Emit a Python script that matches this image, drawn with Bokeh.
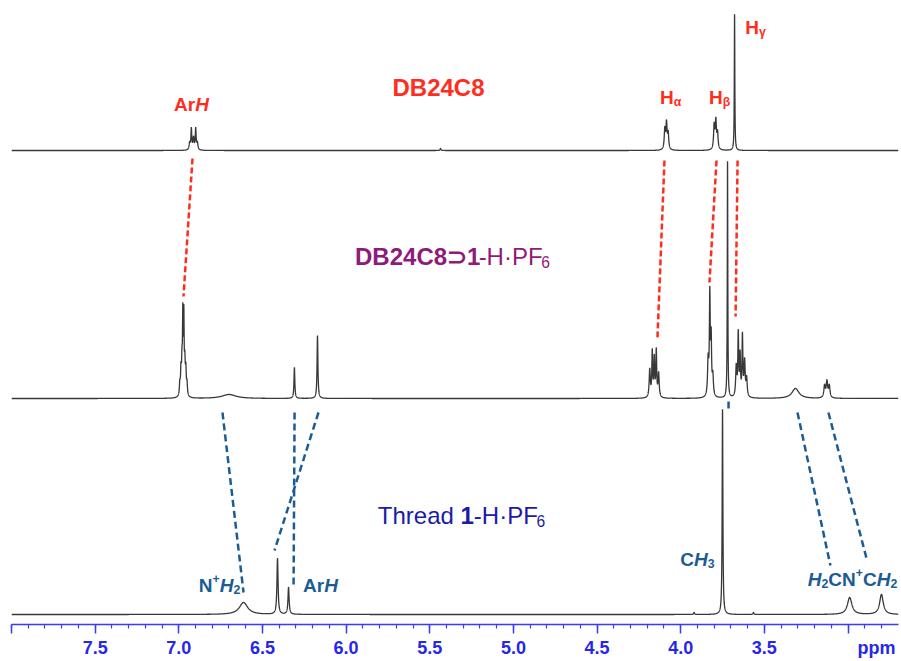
import numpy as np
from bokeh.plotting import figure
from bokeh.models import Range1d, LinearAxis, FixedTicker, ColumnDataSource
from bokeh.core.properties import value, field
from bokeh.embed import file_html
from bokeh.resources import INLINE

# ---------------- data ----------------
TICKS_MAJOR = [8.0, 7.5, 7.0, 6.5, 6.0, 5.5, 5.0, 4.5, 4.0, 3.5, 3.0]
LABEL_TICKS = [7.5, 7.0, 6.5, 6.0, 5.5, 5.0, 4.5, 4.0, 3.5, 2.83]
TICK_LABELS = ["7.5", "7.0", "6.5", "6.0", "5.5", "5.0", "4.5", "4.0", "3.5", "ppm"]

# peaks of each trace: chemical shift (ppm), height (px above baseline), half width (ppm)
TOP_PPM = [6.935, 6.925, 6.912, 6.899, 6.889, 5.436, 4.095, 4.085, 4.075, 3.800, 3.790, 3.780, 3.678]
TOP_H   = [7, 21, 12, 21, 7, 2, 20, 26, 16, 24, 28, 16, 137]
TOP_W   = [.004, .003, .004, .003, .004, .003, .004, .004, .004, .004, .004, .004, .0018]

MID_PPM = [6.994, 6.987, 6.981, 6.976, 6.970, 6.964, 6.958, 6.951, 6.700, 6.309, 6.171,
           4.185, 4.170, 4.158, 4.146, 4.132, 3.836, 3.826, 3.818, 3.808, 3.720,
           3.668, 3.656, 3.645, 3.631, 3.618, 3.606, 3.314, 3.140, 3.126, 3.112]
MID_H   = [12, 24, 30, 75, 75, 30, 24, 12, 4, 31, 63,
           28, 45, 38, 46, 24, 35, 100, 55, 20, 238,
           30, 62, 40, 60, 35, 18, 10, 12, 16, 12]
MID_W   = [.003, .003, .003, .0022, .0022, .003, .003, .003, .05, .003, .003,
           .004, .003, .003, .003, .004, .004, .003, .003, .004, .0018,
           .004, .003, .003, .003, .004, .004, .025, .005, .005, .005]

THR_PPM = [6.613, 6.410, 6.344, 3.920, 3.750, 3.565, 2.990, 2.800]
THR_H   = [12, 56, 27, 2, 206, 2, 17, 20]
THR_W   = [.030, .004, .004, .003, .0025, .003, .016, .013]

# correlation lines (ppm at upper end, ppm at lower end)
RED_FROM = [6.918, 4.097, 3.786, 3.660]
RED_TO   = [6.972, 4.139, 3.828, 3.672]
BLUE_FROM = [6.739, 6.308, 6.165, 3.302, 3.117, 3.714]
BLUE_TO   = [6.613, 6.314, 6.428, 3.105, 2.889, 3.714]

# ---------------- layout ----------------
W, H = 900, 660
PX_PER_PPM = 167.3
FRAME_LEFT, FRAME_RIGHT = 11, 898      # page x of frame edges
AXIS_ROW = 624                          # page y of the axis line
X_LEFT = 8.0
X_RIGHT = X_LEFT - (FRAME_RIGHT - FRAME_LEFT) / PX_PER_PPM
TEXT_SHIFT = 6

def Y(page_y):  # page pixel row -> data y
    return AXIS_ROW - page_y

def xp(page_x):
    return X_LEFT - (page_x - FRAME_LEFT) / PX_PER_PPM

TOP_BASE, MID_BASE, THR_BASE = Y(150), Y(398), Y(614)

RED = "#ff2d1e"
PURPLE = "#8e1a7b"
NAVY = "#1b1ba8"
LBLUE = "#1c5c94"
AXBLUE = "#3b3bf5"
TICKBLUE = "#2626ec"
FONT = "Liberation Sans"

p = figure(width=W, height=H, x_range=Range1d(X_LEFT, X_RIGHT), y_range=Range1d(0, AXIS_ROW),
           output_backend="svg", toolbar_location=None, x_axis_type=None, y_axis_type=None,
           min_border_left=FRAME_LEFT, min_border_right=W - FRAME_RIGHT, min_border_top=0,
           min_border_bottom=H - AXIS_ROW)
p.outline_line_color = None
p.background_fill_color = "white"

grid = np.arange(X_RIGHT, X_LEFT + 0.0004, 0.0004)

def trace(ppms, hs, ws, base):
    y = np.full_like(grid, float(base))
    for c, h, w in zip(ppms, hs, ws):
        y += h * w * w / (w * w + (grid - c) ** 2)
    return y

for ppms, hs, ws, base in [(TOP_PPM, TOP_H, TOP_W, TOP_BASE),
                           (MID_PPM, MID_H, MID_W, MID_BASE),
                           (THR_PPM, THR_H, THR_W, THR_BASE)]:
    p.line(grid, trace(ppms, hs, ws, base), line_color="#383838", line_width=1.3)

# dashed correlation lines
p.segment(x0=RED_FROM, y0=[Y(158), Y(160), Y(160), Y(160)],
          x1=RED_TO, y1=[Y(296), Y(338), Y(282), Y(316)],
          line_color=RED, line_width=2.5, line_dash="6 3")
p.segment(x0=BLUE_FROM, y0=[Y(412), Y(412), Y(412), Y(412), Y(412), Y(401)],
          x1=BLUE_TO, y1=[Y(592), Y(587), Y(550), Y(565), Y(558), Y(408)],
          line_color=LBLUE, line_width=2.5, line_dash="7 4")

# ---------------- rich text labels ----------------
REG_W = {' ': 278, '-': 333, '·': 278, '+': 584, 'A': 667, 'B': 667, 'C': 722, 'D': 722, 'F': 611,
         'H': 722, 'N': 722, 'P': 667, 'T': 611, 'a': 556, 'd': 556, 'e': 556, 'h': 556, 'r': 333,
         'α': 578, 'β': 575, 'γ': 500, '⊃': 760}
BOLD_W = {' ': 278, '-': 333, '·': 278, '+': 584, 'A': 722, 'B': 722, 'C': 722, 'D': 722, 'F': 611,
          'H': 722, 'N': 722, 'P': 667, 'T': 611, 'r': 389, 'α': 600, 'β': 600, 'γ': 556, '⊃': 760}

def twidth(s, size, bold):
    tbl = BOLD_W if bold else REG_W
    return sum(tbl.get(ch, 556) for ch in s) * size / 1000.0

LABELS = [
    (xp(438), Y(93), 24, RED, [("DB24C8", "bold", "")]),
    (xp(191), Y(110), 19, RED, [("Ar", "bold", ""), ("H", "bold italic", "")]),
    (xp(670), Y(103), 19, RED, [("H", "bold", ""), ("α", "bold", "sub")]),
    (xp(719), Y(103), 19, RED, [("H", "bold", ""), ("β", "bold", "sub")]),
    (xp(755), Y(33), 19, RED, [("H", "bold", ""), ("γ", "bold", "sub")]),
    (xp(452), Y(262), 24, PURPLE, [("DB24C8⊃1", "bold", ""), ("-H·PF", "normal", ""), ("6", "normal", "sub")]),
    (xp(461), Y(521), 24, NAVY, [("Thread ", "normal", ""), ("1", "bold", ""), ("-H·PF", "normal", ""), ("6", "normal", "sub")]),
    (xp(219), Y(591), 19, LBLUE, [("N", "bold", ""), ("+", "bold", "sup"), ("H", "bold italic", ""), ("2", "bold", "sub")]),
    (xp(320), Y(591), 19, LBLUE, [("Ar", "bold", ""), ("H", "bold italic", "")]),
    (xp(697), Y(565), 19, LBLUE, [("C", "bold", ""), ("H", "bold italic", ""), ("3", "bold", "sub")]),
    (xp(852), Y(585), 19, LBLUE, [("H", "bold italic", ""), ("2", "bold", "sub"), ("CN", "bold", ""),
                                  ("+", "bold", "sup"), ("C", "bold", ""), ("H", "bold italic", ""), ("2", "bold", "sub")]),
]

rows = dict(x=[], y=[], text=[], xo=[], fs=[], st=[], col=[])
for cx, cy, size, col, runs in LABELS:
    pieces, total = [], 0.0
    for txt, st, scr in runs:
        sz = size * (0.65 if scr else 1.0)
        dy = {"": 0.0, "sub": -0.22 * size, "sup": 0.36 * size}[scr]
        pieces.append((txt, st, sz, total, dy))
        total += twidth(txt, sz, "bold" in st)
    for txt, st, sz, off, dy in pieces:
        rows["x"].append(cx)
        rows["y"].append(cy + dy + TEXT_SHIFT)
        rows["text"].append(txt)
        rows["xo"].append(off - total / 2.0)
        rows["fs"].append("%.1fpx" % sz)
        rows["st"].append(st)
        rows["col"].append(col)

src = ColumnDataSource(rows)
p.text(x="x", y="y", text="text", source=src, x_offset=field("xo"),
       text_font=value(FONT), text_font_size=field("fs"), text_font_style=field("st"),
       text_color=field("col"), text_align="left", text_baseline="alphabetic")

# ---------------- axes ----------------
minor = [round(X_LEFT - 0.1 * i, 1) for i in range(0, 53)]
ax = LinearAxis(ticker=FixedTicker(ticks=TICKS_MAJOR, minor_ticks=minor),
                major_label_overrides={t: "" for t in TICKS_MAJOR})
ax.axis_line_color = AXBLUE
ax.axis_line_width = 1.5
ax.major_tick_line_color = AXBLUE
ax.major_tick_line_width = 1.5
ax.minor_tick_line_color = AXBLUE
ax.minor_tick_line_width = 1.2
ax.major_tick_in = 0
ax.major_tick_out = 9
ax.minor_tick_in = 0
ax.minor_tick_out = 4
ax.major_label_text_font_size = "1px"
ax.major_label_standoff = 0
p.add_layout(ax, "below")

lab_ax = LinearAxis(ticker=FixedTicker(ticks=LABEL_TICKS, minor_ticks=[]),
                    major_label_overrides={t: l for t, l in zip(LABEL_TICKS, TICK_LABELS)})
lab_ax.axis_line_color = None
lab_ax.major_tick_line_color = None
lab_ax.minor_tick_line_color = None
lab_ax.major_tick_in = 0
lab_ax.major_tick_out = 0
lab_ax.major_label_text_font = FONT
lab_ax.major_label_text_font_size = "18px"
lab_ax.major_label_text_font_style = "bold"
lab_ax.major_label_text_color = TICKBLUE
lab_ax.major_label_standoff = 4
p.add_layout(lab_ax, "below")

open("out.html", "w").write(file_html(p, INLINE))
